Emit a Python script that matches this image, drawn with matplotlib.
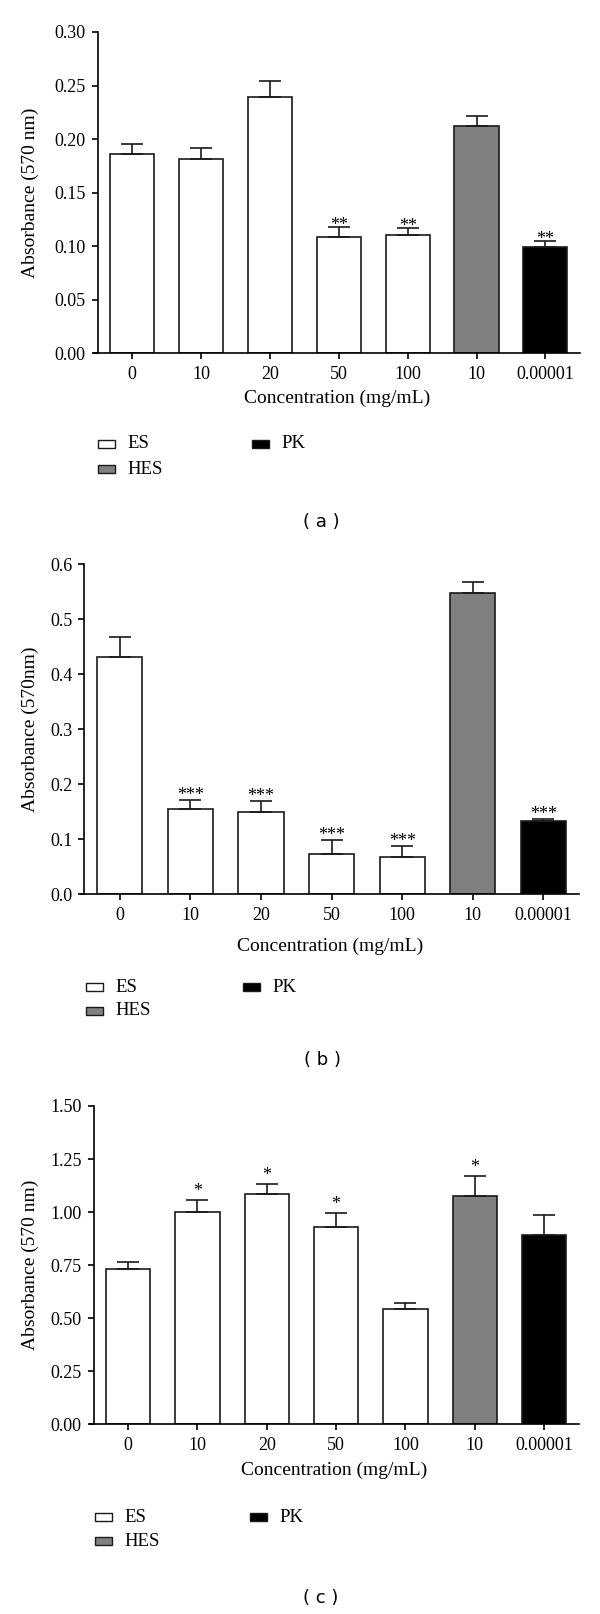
import matplotlib
matplotlib.use('Agg')
import matplotlib.pyplot as plt
from matplotlib.patches import Rectangle
import numpy as np

plt.rcParams['font.family'] = ['Liberation Serif', 'DejaVu Serif']

# categories
conc = ['0', '10', '20', '50', '100', '10', '0.00001']
groups = ['ES', 'ES', 'ES', 'ES', 'ES', 'HES', 'PK']
group_names = ['ES', 'HES', 'PK']
group_colors = {'ES': 'white', 'HES': '#808080', 'PK': 'black'}

# panel (a)
abs_a = [0.186, 0.181, 0.239, 0.109, 0.110, 0.212, 0.099]
err_a = [0.009, 0.011, 0.015, 0.009, 0.007, 0.010, 0.006]
sig_a = ['', '', '', '**', '**', '', '**']

# panel (b)
abs_b = [0.432, 0.155, 0.149, 0.073, 0.068, 0.548, 0.133]
err_b = [0.036, 0.017, 0.020, 0.025, 0.020, 0.020, 0.004]
sig_b = ['', '***', '***', '***', '***', '', '***']

# panel (c)
abs_c = [0.730, 1.002, 1.085, 0.930, 0.544, 1.078, 0.894]
err_c = [0.033, 0.055, 0.049, 0.067, 0.027, 0.094, 0.094]
sig_c = ['', '*', '*', '*', '', '*', '']

W, H = 600, 1614
fig = plt.figure(figsize=(W / 100, H / 100), dpi=100)


def add_axes_px(left, top, right, bottom):
    return fig.add_axes([left / W, 1 - bottom / H, (right - left) / W, (bottom - top) / H])


def panel(ax, vals, errs, sig, ymax, step, fmt, ylabel, ylab_x, xlab_y, star_dy):
    x = np.arange(len(vals))
    colors = [group_colors[g] for g in groups]
    ax.bar(x, vals, width=0.64, color=colors, edgecolor='#1a1a1a', linewidth=1.2, zorder=2)
    ax.errorbar(x, vals, yerr=[np.zeros(len(errs)), errs], fmt='none', ecolor='#1a1a1a',
                elinewidth=1.2, capsize=8, capthick=1.2, zorder=3)
    for i in range(len(vals)):
        if sig[i]:
            ax.annotate(sig[i], (x[i], vals[i] + errs[i]), xytext=(0, star_dy),
                        textcoords='offset pixels', ha='center', va='baseline', fontsize=13)
    ax.set_xlim(-0.555, 6.5)
    ax.set_ylim(0, ymax)
    ticks = np.arange(0, ymax + step / 2, step)
    ax.set_yticks(ticks)
    ax.set_yticklabels([fmt.format(t) for t in ticks])
    ax.set_xticks(x)
    ax.set_xticklabels(conc)
    ax.spines['top'].set_visible(False)
    ax.spines['right'].set_visible(False)
    ax.spines['left'].set_position(('data', -0.5))
    ax.spines['left'].set_linewidth(1.2)
    ax.spines['bottom'].set_linewidth(1.2)
    ax.tick_params(axis='both', direction='out', length=4.5, width=1.2, labelsize=13)
    ax.tick_params(axis='y', pad=4)
    ax.tick_params(axis='x', pad=5)
    ax.set_ylabel(ylabel, fontsize=14, va='center')
    ax.yaxis.set_label_coords(ylab_x, 0.5)
    ax.set_xlabel('Concentration (mg/mL)', fontsize=14, va='center')
    ax.xaxis.set_label_coords(0.5, xlab_y)


def legend(x_es, x_pk, y_row1, y_row2):
    pos = {'ES': (x_es, y_row1), 'HES': (x_es, y_row2), 'PK': (x_pk, y_row1)}
    for name in group_names:
        bx, by = pos[name]
        fig.patches.append(Rectangle(((bx) / W, 1 - (by + 4) / H), 17 / W, 8 / H,
                                     transform=fig.transFigure, facecolor=group_colors[name],
                                     edgecolor='#1a1a1a', linewidth=1.0))
        fig.text((bx + 29) / W, 1 - by / H, name, fontsize=13.5, ha='left', va='center')


def caption(s, cx, cy):
    fig.text(cx / W, 1 - cy / H, s, fontsize=13, ha='center', va='center', family='DejaVu Sans')


ax_a = add_axes_px(93.8, 32, 579.9, 353.3)
panel(ax_a, abs_a, err_a, sig_a, 0.30, 0.05, '{:.2f}', 'Absorbance (570 nm)', -0.13, -0.139, -3)
legend(98, 252, 444, 469)
caption('( a )', 321, 522)

ax_b = add_axes_px(80.6, 564.3, 578.7, 894.3)
panel(ax_b, abs_b, err_b, sig_b, 0.6, 0.1, '{:.1f}', 'Absorbance (570nm)', -0.10, -0.159, 0)
legend(86, 243, 987, 1011)
caption('( b )', 322, 1060)

ax_c = add_axes_px(89.7, 1106, 578.7, 1424.3)
panel(ax_c, abs_c, err_c, sig_c, 1.50, 0.25, '{:.2f}', 'Absorbance (570 nm)', -0.121, -0.1436, 4)
legend(95, 250, 1517, 1541)
caption('( c )', 321, 1598)

fig.savefig('out.png', dpi=100)
